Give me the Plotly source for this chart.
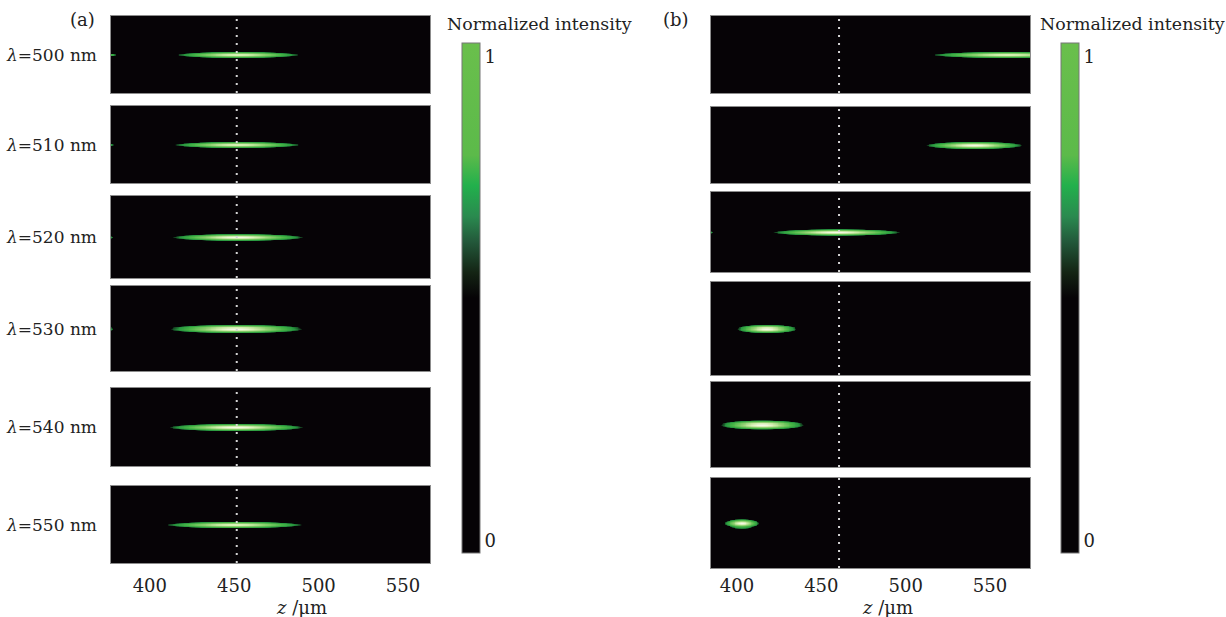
import numpy as np
import plotly.graph_objects as go

W, H = 1226, 617
FONT = "DejaVu Serif, Liberation Serif, serif"
FS = 18

# ---------------- data ----------------
wavelengths = [500, 510, 520, 530, 540, 550]          # nm
row_labels = [f"<i>λ</i>={w} nm" for w in wavelengths]

# panel (a): focal spot centre / half length / half width (µm)
a_center = [452.0, 451.5, 452.0, 451.0, 451.0, 450.0]
a_half_len = [37.0, 38.0, 38.5, 39.0, 39.5, 41.0]
a_half_wid = [1.9, 1.9, 1.8, 1.9, 1.9, 2.0]
a_tail_center = [370.0, 370.0, 370.0, 370.0, 370.0, 370.0]
a_tail_len = [11.0, 9.0, 8.0, 8.0, 0.0, 0.0]

# panel (b)
b_center = [560.0, 540.5, 459.0, 417.5, 414.8, 402.7]
b_half_len = [45.0, 28.5, 37.5, 17.5, 24.5, 10.3]
b_half_wid = [1.9, 1.9, 1.7, 1.9, 2.1, 2.2]
b_tail_center = [378.0, 378.0, 378.0, 378.0, 378.0, 378.0]
b_tail_len = [0.0, 0.0, 7.5, 0.0, 0.0, 0.0]

a_ref = 451.5      # dotted reference line (µm)
b_ref = 460.5
a_range = [377.0, 566.0]
b_range = [384.6, 573.7]
z_ticks = [400, 450, 500, 550]
y_range = [-20.0, 20.0]

# ---------------- layout geometry (pixels) ----------------
a_x = (111, 430)
b_x = (711, 1030)
a_rows = [(16, 93), (106, 183), (196, 278), (286, 371), (388, 466), (486, 563)]
b_rows = [(16, 93), (107, 183), (192, 272), (282, 375), (382, 467), (478, 568)]
tick_len = [6, 1]

heat_scale = [[0, "#060306"], [0.5, "#060306"], [0.52, "#134220"], [0.58, "#27963f"],
              [0.7, "#48b646"], [0.85, "#8fd070"], [0.95, "#d4eeb0"], [1, "#f5f8e6"]]
cb_scale = [[0, "#060306"], [0.5, "#060306"], [0.55, "#142414"], [0.61, "#23583a"],
            [0.66, "#2a8a4f"], [0.72, "#22b04c"], [0.78, "#5cba4a"], [1, "#6abf4c"]]

LN2 = np.log(2.0)


def spot(zz, yy, c, L, w):
    if L <= 0:
        return np.zeros_like(zz)
    return np.exp(-LN2 * ((zz - c) / L) ** 2 - LN2 * (yy / w) ** 2)


def px2fx(p):
    return p / W


def px2fy(p):
    return 1 - p / H


fig = go.Figure()
layout = {}
axis_n = 0

panels = [
    (a_x, a_rows, a_range, a_center, a_half_len, a_half_wid, a_tail_center, a_tail_len, a_ref),
    (b_x, b_rows, b_range, b_center, b_half_len, b_half_wid, b_tail_center, b_tail_len, b_ref),
]

for pi, (px, rows, zr, cen, hl, hw, tc, tl, ref) in enumerate(panels):
    z = np.arange(zr[0], zr[1] + 0.25, 0.5)
    y = np.linspace(y_range[0], y_range[1], 81)
    zz, yy = np.meshgrid(z, y)
    for ri in range(6):
        axis_n += 1
        sfx = "" if axis_n == 1 else str(axis_n)
        inten = np.maximum(spot(zz, yy, cen[ri], hl[ri], hw[ri]),
                           spot(zz, yy, tc[ri], tl[ri], 1.2))
        fig.add_trace(go.Heatmap(
            x=z, y=y, z=inten.astype(np.float32), colorscale=heat_scale,
            zmin=0, zmax=1, showscale=False, zsmooth="best", hoverinfo="skip",
            xaxis="x" + sfx, yaxis="y" + sfx))
        fig.add_trace(go.Scatter(
            x=[ref, ref], y=y_range, mode="lines", hoverinfo="skip", showlegend=False,
            line=dict(color="#d4d4d4", width=2, dash="2px,6px"),
            xaxis="x" + sfx, yaxis="y" + sfx))
        top, bot = rows[ri]
        bottom_row = ri == 5
        layout["xaxis" + sfx] = dict(
            domain=[px2fx(px[0]), px2fx(px[1])], range=zr, anchor="y" + sfx,
            showgrid=False, zeroline=False, showline=True, mirror=True,
            linecolor="#8c8c8c", linewidth=1, tickvals=z_ticks,
            ticks="outside" if (bottom_row and tick_len[pi] > 0) else "",
            ticklen=tick_len[pi], tickcolor="rgba(0,0,0,0)",
            showticklabels=bottom_row, tickfont=dict(family=FONT, size=FS, color="#222"))
        layout["yaxis" + sfx] = dict(
            domain=[px2fy(bot), px2fy(top)], range=y_range, anchor="x" + sfx,
            showgrid=False, zeroline=False, showline=True, mirror=True,
            linecolor="#8c8c8c", linewidth=1, showticklabels=False, ticks="")

    # colour bar carrier
    cbx = 462 if pi == 0 else 1061
    first = "" if pi == 0 else "7"
    fig.add_trace(go.Scatter(
        x=[0, 0], y=[0, 0], mode="markers", hoverinfo="skip", showlegend=False,
        marker=dict(color=[0, 1], colorscale=cb_scale, cmin=-0.025, cmax=1.028, size=1,
                    showscale=True,
                    colorbar=dict(x=px2fx(cbx), xanchor="left", xpad=0, ypad=0,
                                  y=px2fy(298), yanchor="middle", lenmode="pixels", len=510,
                                  thickness=18, outlinewidth=1, outlinecolor="#777",
                                  tickvals=[0, 1], ticktext=["0", "1"], ticks="",
                                  tickfont=dict(family=FONT, size=FS, color="#222"))),
        xaxis="x" + first, yaxis="y" + first))

annotations = []
for ri in range(6):
    t, b = a_rows[ri]
    annotations.append(dict(x=px2fx(99), y=px2fy((t + b) / 2), xref="paper", yref="paper",
                            text=row_labels[ri], showarrow=False, xanchor="right",
                            yanchor="middle", font=dict(family=FONT, size=17, color="#222")))
for txt, x in [("(a)", 82), ("(b)", 676)]:
    annotations.append(dict(x=px2fx(x), y=px2fy(19), xref="paper", yref="paper", text=txt,
                            showarrow=False, xanchor="center", yanchor="middle",
                            font=dict(family=FONT, size=FS, color="#222")))
for x in (539, 1132):
    annotations.append(dict(x=px2fx(x), y=px2fy(24), xref="paper", yref="paper",
                            text="Normalized intensity", showarrow=False, xanchor="center",
                            yanchor="middle", font=dict(family=FONT, size=17.4, color="#222")))
for x in (301, 887):
    annotations.append(dict(x=px2fx(x), y=px2fy(607), xref="paper", yref="paper",
                            text="<i>z</i> /μm", showarrow=False, xanchor="center",
                            yanchor="middle", font=dict(family=FONT, size=FS, color="#222")))

fig.update_layout(width=W, height=H, margin=dict(l=0, r=0, t=0, b=0),
                  paper_bgcolor="white", plot_bgcolor="#060306", showlegend=False,
                  annotations=annotations, **layout)
fig.write_html("out.html", config={"displayModeBar": False},
               post_script="document.body.style.margin='0';document.body.style.overflow='hidden';")
